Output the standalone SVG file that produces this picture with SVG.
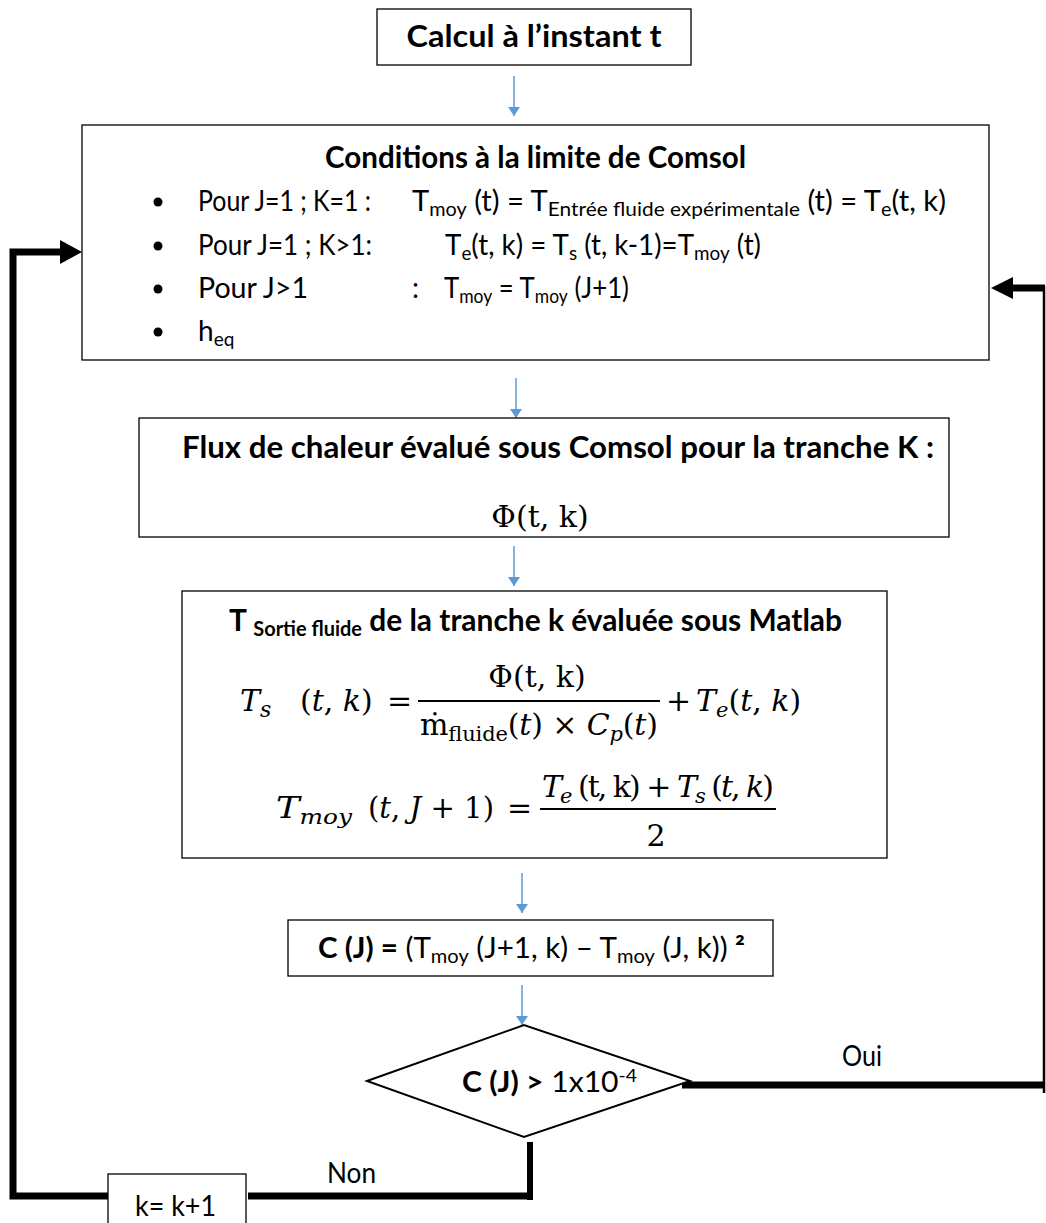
<svg xmlns="http://www.w3.org/2000/svg" width="1046" height="1223" viewBox="0 0 1046 1223">
<defs>
<style>
.box{fill:#fff;stroke:#000;stroke-width:1.3}
.t{font-family:Lato,"Liberation Sans",sans-serif;font-size:28px;fill:#000}
.h{font-family:Lato,"Liberation Sans",sans-serif;font-size:30px;font-weight:bold;fill:#000}
.b{font-weight:bold}
.m{font-family:"DejaVu Serif","Liberation Serif",serif;font-size:30px;fill:#000}
.i{font-style:italic}
.blue{stroke:#5B9BD5;stroke-width:1.5;fill:none}
.thick{stroke:#000;fill:none;stroke-linecap:butt}
</style>
<marker id="ab" markerWidth="12" markerHeight="12" viewBox="0 0 12 16" refX="12" refY="8" orient="auto" markerUnits="userSpaceOnUse">
<path d="M0,0 L12,8 L0,16 Z" fill="#5B9BD5"/>
</marker>
</defs>
<rect width="1046" height="1223" fill="#fff"/>

<g id="connectors">
<line class="blue" x1="514" y1="76" x2="514" y2="116" marker-end="url(#ab)"/>
<line class="blue" x1="516" y1="378" x2="516" y2="418" marker-end="url(#ab)"/>
<line class="blue" x1="514" y1="546" x2="514" y2="586" marker-end="url(#ab)"/>
<line class="blue" x1="522" y1="873" x2="522" y2="913" marker-end="url(#ab)"/>
<line class="blue" x1="522" y1="985" x2="522" y2="1025" marker-end="url(#ab)"/>
<!-- Oui loop -->
<line class="thick" x1="682" y1="1085" x2="1044" y2="1085" stroke-width="7"/>
<line class="thick" x1="1044" y1="1093" x2="1044" y2="286" stroke-width="2.5"/>
<line class="thick" x1="1045" y1="288" x2="1010" y2="288" stroke-width="7"/>
<path d="M991,288 L1013,277 L1013,299 Z" fill="#000"/>
<!-- Non loop -->
<line class="thick" x1="530" y1="1142" x2="530" y2="1200" stroke-width="6"/>
<line class="thick" x1="533" y1="1196" x2="248" y2="1196" stroke-width="7"/>
<polyline class="thick" points="108,1196 13,1196 13,252 62,252" stroke-width="7"/>
<path d="M82,252 L60,240 L60,264 Z" fill="#000"/>
</g>

<g id="node-start">
<rect class="box" x="377" y="9" width="314" height="56"/>
<text class="h" x="534" y="47" text-anchor="middle" textLength="255" lengthAdjust="spacingAndGlyphs">Calcul à l’instant t</text>
</g>

<g id="node-conditions">
<rect class="box" x="82" y="125" width="907" height="235"/>
<text class="h" x="325" y="168" textLength="421" lengthAdjust="spacingAndGlyphs">Conditions à la limite de Comsol</text>
<circle cx="158" cy="202" r="4.5"/>
<circle cx="158" cy="246" r="4.5"/>
<circle cx="158" cy="289" r="4.5"/>
<circle cx="158" cy="332" r="4.5"/>
<text class="t" x="198" y="211" textLength="173" lengthAdjust="spacingAndGlyphs">Pour J=1 ; K=1 :</text>
<text class="t" x="412" y="211" textLength="534" lengthAdjust="spacingAndGlyphs">T<tspan font-size="19" dy="5">moy</tspan><tspan dy="-5"> (t) = T</tspan><tspan font-size="20" dy="5">Entrée fluide expérimentale</tspan><tspan dy="-5"> (t) = T</tspan><tspan font-size="19" dy="5">e</tspan><tspan dy="-5">(t, k)</tspan></text>
<text class="t" x="198" y="255" textLength="174" lengthAdjust="spacingAndGlyphs">Pour J=1 ; K&gt;1:</text>
<text class="t" x="445" y="255" textLength="316" lengthAdjust="spacingAndGlyphs">T<tspan font-size="19" dy="5">e</tspan><tspan dy="-5">(t, k) = T</tspan><tspan font-size="19" dy="5">s</tspan><tspan dy="-5"> (t, k-1)=T</tspan><tspan font-size="19" dy="5">moy</tspan><tspan dy="-5"> (t)</tspan></text>
<text class="t" x="198" y="298" textLength="110" lengthAdjust="spacingAndGlyphs">Pour J&gt;1</text>
<text class="t" x="412" y="298">:</text>
<text class="t" x="444" y="298" textLength="185" lengthAdjust="spacingAndGlyphs">T<tspan font-size="19" dy="5">moy</tspan><tspan dy="-5"> = T</tspan><tspan font-size="19" dy="5">moy</tspan><tspan dy="-5"> (J+1)</tspan></text>
<text class="t" x="198" y="341">h<tspan font-size="19" dy="5">eq</tspan></text>
</g>

<g id="node-flux">
<rect class="box" x="139" y="418" width="810" height="119"/>
<text class="h" x="182" y="458" textLength="752" lengthAdjust="spacingAndGlyphs">Flux de chaleur évalué sous Comsol pour la tranche K :</text>
<text class="m" x="540" y="527" text-anchor="middle">Φ(t, k)</text>
</g>

<g id="node-matlab">
<rect class="box" x="182" y="591" width="705" height="267"/>
<text class="h" x="229" y="631" textLength="613" lengthAdjust="spacingAndGlyphs">T <tspan font-size="20" dy="5">Sortie fluide</tspan><tspan dy="-5"> de la tranche k évaluée sous Matlab</tspan></text>
<!-- formula 1 -->
<text class="m i" x="240" y="711">T<tspan font-size="22" dy="6">s</tspan></text>
<text class="m" x="300" y="711">(<tspan class="i">t</tspan>, <tspan class="i">k</tspan>)</text>
<text class="m" x="387" y="711">=</text>
<text class="m" x="537" y="687" text-anchor="middle">Φ(t, k)</text>
<line x1="418" y1="701" x2="660" y2="701" stroke="#000" stroke-width="1.8"/>
<text class="m" x="539" y="735" text-anchor="middle" textLength="238" lengthAdjust="spacing">ṁ<tspan font-size="21" dy="6">fluide</tspan><tspan dy="-6">(</tspan><tspan class="i">t</tspan>) × <tspan class="i">C</tspan><tspan class="i" font-size="21" dy="6">p</tspan><tspan dy="-6">(</tspan><tspan class="i">t</tspan>)</text>
<text class="m" x="666" y="711">+</text>
<text class="m" x="696" y="711"><tspan class="i">T</tspan><tspan class="i" font-size="21" dy="6">e</tspan><tspan dy="-6">(</tspan><tspan class="i">t</tspan>, <tspan class="i">k</tspan>)</text>
<!-- formula 2 -->
<text class="m i" x="276" y="818" textLength="76" lengthAdjust="spacingAndGlyphs">T<tspan font-size="21" dy="6">moy</tspan></text>
<text class="m" x="368" y="818" textLength="126" lengthAdjust="spacingAndGlyphs">(<tspan class="i">t</tspan>, <tspan class="i">J</tspan> + 1)</text>
<text class="m" x="507" y="818">=</text>
<text class="m" x="542" y="797" textLength="232" lengthAdjust="spacing"><tspan class="i">T</tspan><tspan class="i" font-size="21" dy="6">e</tspan><tspan dy="-6"> (t, k) + </tspan><tspan class="i">T</tspan><tspan class="i" font-size="21" dy="6">s</tspan><tspan dy="-6"> (</tspan><tspan class="i">t</tspan>, <tspan class="i">k</tspan>)</text>
<line x1="540" y1="809" x2="776" y2="809" stroke="#000" stroke-width="1.8"/>
<text class="m" x="656" y="846" text-anchor="middle">2</text>
</g>

<g id="node-cj">
<rect class="box" x="288" y="920" width="485" height="56"/>
<text class="t" x="318" y="958" textLength="427" lengthAdjust="spacingAndGlyphs"><tspan class="b">C (J) =</tspan> (T<tspan font-size="19" dy="5">moy</tspan><tspan dy="-5"> (J+1, k) – T</tspan><tspan font-size="19" dy="5">moy</tspan><tspan dy="-5"> (J, k)) </tspan><tspan class="b">²</tspan></text>
</g>

<g id="node-decision">
<polygon points="367,1081 524,1025 690,1081 524,1137" fill="#fff" stroke="#000" stroke-width="2"/>
<text class="t" x="462" y="1092" textLength="175" lengthAdjust="spacingAndGlyphs"><tspan class="b">C (J) &gt;</tspan> 1x10<tspan font-size="18" dy="-10">-4</tspan></text>
</g>

<g id="labels">
<text class="t" x="842" y="1066" textLength="40" lengthAdjust="spacingAndGlyphs">Oui</text>
<text class="t" x="327" y="1183" textLength="49" lengthAdjust="spacingAndGlyphs">Non</text>
</g>

<g id="node-k">
<rect class="box" x="108" y="1174" width="138" height="60"/>
<text class="t" x="135" y="1216" textLength="81" lengthAdjust="spacingAndGlyphs">k= k+1</text>
</g>
</svg>
